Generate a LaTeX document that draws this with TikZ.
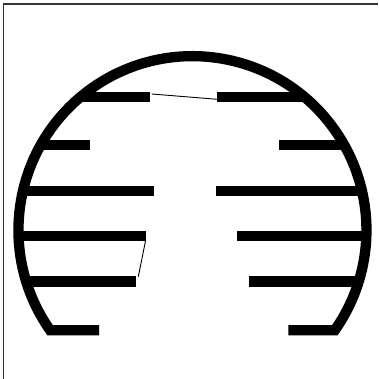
\documentclass[tikz,border=0pt]{standalone}
\begin{document}
\begin{tikzpicture}[x=1pt,y=1pt,
  thick bar/.style={line width=10.3pt, line cap=butt, black},
  ring/.style={line width=10.3pt, black, line join=miter},
  link/.style={line width=0.9pt, black},
  frame/.style={line width=1.2pt, black!80}]
\useasboundingbox (0,0) rectangle (378,379);
% frame (top and left edges only)
\draw[frame] (3.6,0) -- (3.6,375) -- (378,375);
% centre of the dome
\coordinate (C) at (192.5,149);
% dome with the two bottom feet
\draw[ring] (99,48.8) -- (50.1,48.8) arc[start angle=215.1, end angle=-35.1, radius=174] -- (288.3,48.8);
% left bars
\draw[thick bar] (80,281.7) -- (149.7,281.7) coordinate (l1);
\draw[thick bar] (40.5,233.7) -- (89.7,233.7);
\draw[thick bar] (23,188.2) -- (154,188.2);
\draw[thick bar] (18.6,142.8) -- (145.7,142.8) coordinate (l4);
\draw[thick bar] (26.3,97.5) -- (136,97.5) coordinate (l5);
% right bars
\draw[thick bar] (217.3,281.7) coordinate (r1) -- (305,281.7);
\draw[thick bar] (279.3,233.7) -- (344.5,233.7);
\draw[thick bar] (216,188.2) -- (362,188.2);
\draw[thick bar] (237.3,142.8) -- (366.4,142.8);
\draw[thick bar] (249.3,97.5) -- (358.7,97.5);
% thin links
\coordinate (a1) at (151.7,285);
\coordinate (b1) at (217.3,279.7);
\coordinate (a2) at (145.7,139);
\coordinate (b2) at (138.3,102.3);
\draw[link] (a1) -- (b1);
\draw[link] (a2) -- (b2);
\end{tikzpicture}
\end{document}
